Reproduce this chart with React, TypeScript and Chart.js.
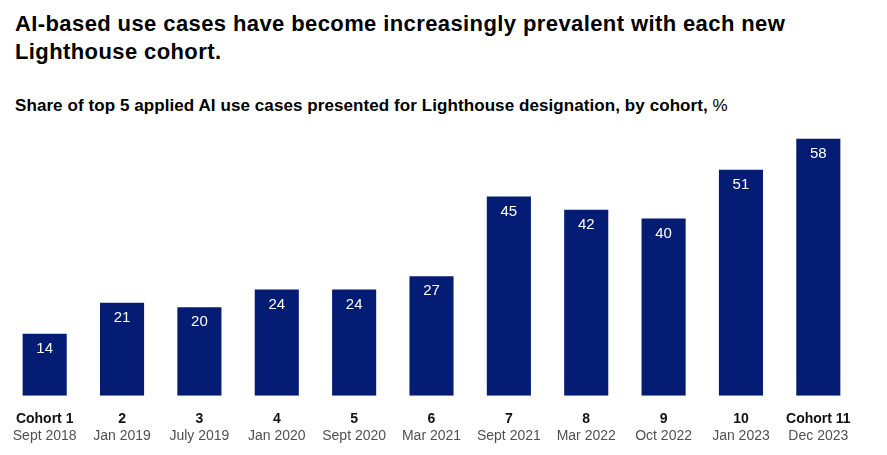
import React, { useEffect, useRef } from "react";
import { Chart, registerables } from "chart.js";

Chart.register(...registerables);

const cohorts = ["Cohort 1", "2", "3", "4", "5", "6", "7", "8", "9", "10", "Cohort 11"];
const dates = ["Sept 2018", "Jan 2019", "July 2019", "Jan 2020", "Sept 2020", "Mar 2021", "Sept 2021", "Mar 2022", "Oct 2022", "Jan 2023", "Dec 2023"];
const shares = [14, 21, 20, 24, 24, 27, 45, 42, 40, 51, 58];

const FONT = "'Liberation Sans', Arial, Helvetica, sans-serif";
const NAVY = "#051c75";

const valueLabels = {
  id: "valueLabels",
  afterDatasetsDraw(chart: any) {
    const ctx = chart.ctx;
    const meta = chart.getDatasetMeta(0);
    ctx.save();
    ctx.fillStyle = "#ffffff";
    ctx.font = `15px ${FONT}`;
    ctx.textAlign = "center";
    ctx.textBaseline = "middle";
    meta.data.forEach((bar: any, i: number) => {
      ctx.fillText(String(shares[i]), bar.x, bar.y + 15);
    });
    ctx.restore();
  },
};

export default function App() {
  const ref = useRef<HTMLCanvasElement>(null);
  useEffect(() => {
    if (!ref.current) return;
    const chart = new Chart(ref.current, {
      type: "bar",
      data: {
        labels: cohorts,
        datasets: [
          {
            data: shares,
            backgroundColor: NAVY,
            categoryPercentage: 1,
            barPercentage: 0.57,
            xAxisID: "x",
          },
        ],
      },
      options: {
        animation: false,
        responsive: true,
        maintainAspectRatio: false,
        layout: { padding: { left: 6, right: 30, top: 12, bottom: 9 } },
        plugins: { legend: { display: false }, tooltip: { enabled: false } },
        scales: {
          x: {
            position: "bottom",
            grid: { display: false, drawTicks: true, tickLength: 14.6 },
            border: { display: false },
            ticks: {
              color: "#111111",
              font: { family: FONT, size: 14, weight: "bold" },
              padding: 0,
              maxRotation: 0,
              autoSkip: false,
            },
          },
          x2: {
            type: "category",
            labels: dates,
            position: "bottom",
            grid: { display: false, drawTicks: false },
            border: { display: false },
            ticks: {
              color: "#505050",
              font: { family: FONT, size: 14 },
              padding: 1,
              maxRotation: 0,
              autoSkip: false,
            },
          },
          y: {
            display: false,
            min: 0,
            max: 60,
          },
        },
      },
      plugins: [valueLabels],
    });
    return () => chart.destroy();
  }, []);

  return (
    <div style={{ position: "relative", height: 447, fontFamily: FONT, color: "#000" }}>
      <div
        style={{
          position: "absolute",
          top: 2,
          left: 7,
          fontSize: 22,
          letterSpacing: 0.4,
          fontWeight: "bold",
          lineHeight: "28px",
          whiteSpace: "nowrap",
        }}
      >
        AI-based use cases have become increasingly prevalent with each new
        <br />
        Lighthouse cohort.
      </div>
      <div
        style={{
          position: "absolute",
          top: 88,
          left: 7,
          fontSize: 17,
          letterSpacing: 0.08,
          lineHeight: "20px",
          whiteSpace: "nowrap",
        }}
      >
        <b>Share of top 5 applied AI use cases presented for Lighthouse designation, by cohort,</b> %
      </div>
      <div style={{ position: "absolute", top: 110, left: -8, width: 887, height: 337 }}>
        <canvas ref={ref} />
      </div>
    </div>
  );
}
